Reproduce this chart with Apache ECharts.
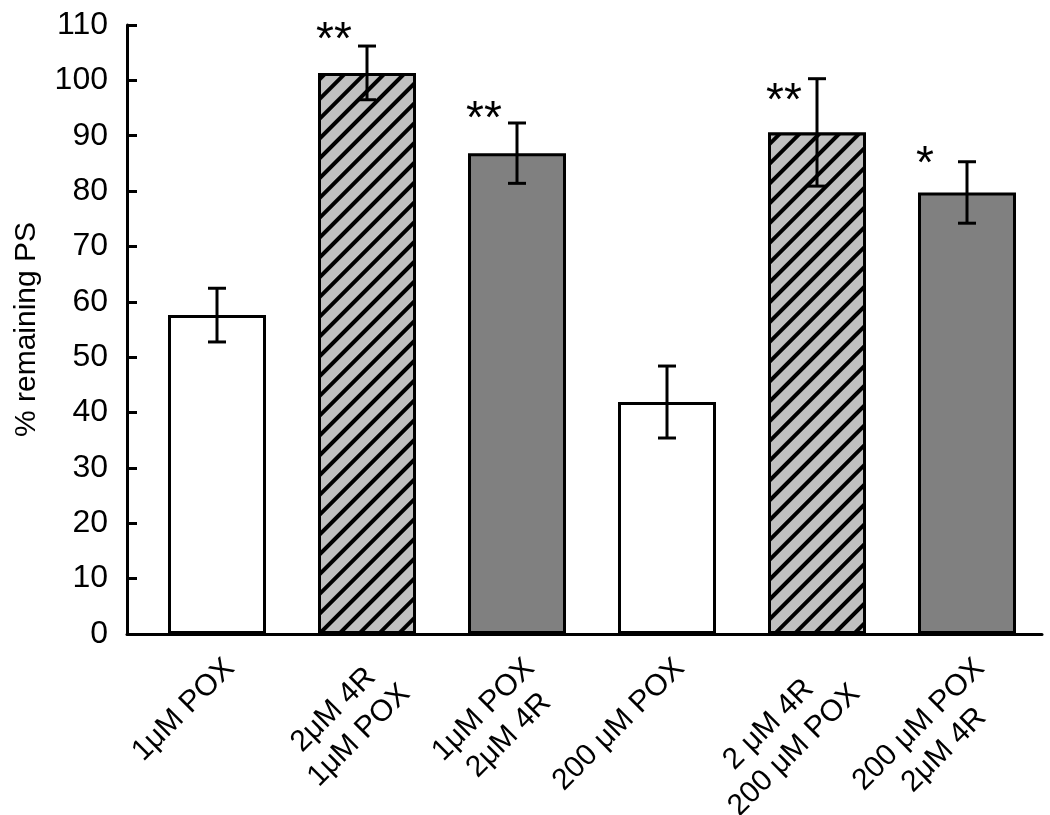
<!DOCTYPE html>
<html><head><meta charset="utf-8">
<script src="https://cdn.jsdelivr.net/npm/echarts@6/dist/echarts.min.js"></script>
<style>html,body{margin:0;padding:0;background:#fff}#c{width:1050px;height:815px}</style>
</head><body><div id="c"></div>
<script>
const categories = [
  '1μM POX',
  '2μM 4R\n1μM POX',
  '1μM POX\n2μM 4R',
  '200 μM POX',
  '2 μM 4R\n200 μM POX',
  '200 μM POX\n2μM 4R'
];
const values = [57.6, 101.35, 86.85, 41.9, 90.6, 79.75];
const errors = [4.85, 4.85, 5.45, 6.5, 9.7, 5.55];
const fills = ['white', 'hatch', 'gray', 'white', 'hatch', 'gray'];
const stars = ['', '**', '**', '', '**', '*'];
const starLevels = [null, 108.6, 94.5, null, 97.7, 86.2];
const yTicks = [0, 10, 20, 30, 40, 50, 60, 70, 80, 90, 100, 110];

const FONT = "'Liberation Sans', Arial, sans-serif";
const BAR_W = 98;

function styleFor(kind) {
  if (kind === 'hatch') {
    return {
      color: '#C0C0C0', borderColor: '#000', borderWidth: 3,
      decal: {
        symbol: 'rect', symbolSize: 1,
        dashArrayX: [1, 0], dashArrayY: [3.2, 9.8],
        rotation: -Math.PI / 4,
        color: '#000', backgroundColor: '#C0C0C0'
      }
    };
  }
  if (kind === 'gray') return { color: '#808080', borderColor: '#000', borderWidth: 3 };
  return { color: '#FFFFFF', borderColor: '#000', borderWidth: 3 };
}

const chart = echarts.init(document.getElementById('c'), null, { renderer: 'canvas' });
chart.setOption({
  animation: false,
  backgroundColor: '#fff',
  grid: { left: 127, right: 8, top: 25, bottom: 181, containLabel: false, outerBoundsMode: 'none' },
  xAxis: {
    type: 'value', min: -0.6, max: 5.5,
    splitLine: { show: false },
    axisTick: { show: false },
    axisLine: { show: true, onZero: false, lineStyle: { color: '#000', width: 3 } },
    axisLabel: {
      customValues: categories.map((c, i) => i),
      rotate: 45, margin: 17, verticalAlign: 'top',
      color: '#000', fontSize: 30, fontFamily: FONT,
      formatter: v => categories[Math.round(v)].split('\n').map(s => '{c|' + s + '}').join('\n'),
      rich: { c: { align: 'center', fontSize: 30, fontFamily: FONT, color: '#000', lineHeight: 36 } }
    }
  },
  yAxis: {
    type: 'value', min: yTicks[0], max: yTicks[yTicks.length - 1], interval: 10,
    name: '% remaining PS', nameLocation: 'middle', nameGap: 85, nameRotate: 90,
    nameTextStyle: { color: '#000', fontSize: 30, fontFamily: FONT },
    splitLine: { show: false },
    axisLine: { show: true, onZero: false, lineStyle: { color: '#000', width: 3 } },
    axisTick: { show: true, inside: true, length: 10, lineStyle: { color: '#000', width: 3 } },
    axisLabel: { color: '#000', fontSize: 32, fontFamily: FONT, margin: 19 }
  },
  series: [
    {
      type: 'bar', barWidth: BAR_W, z: 2,
      data: values.map((v, i) => ({ value: [i, v], itemStyle: styleFor(fills[i]) }))
    },
    {
      type: 'custom', z: 5,
      encode: { x: 0, y: [1, 2] },
      data: values.map((v, i) => [i, v - errors[i], v + errors[i]]),
      renderItem: function (params, api) {
        const i = api.value(0);
        const top = api.coord([i, api.value(2)]);
        const bot = api.coord([i, api.value(1)]);
        const cap = 9;
        const ls = { stroke: '#000', lineWidth: 3 };
        const children = [
          { type: 'line', shape: { x1: top[0], y1: top[1], x2: bot[0], y2: bot[1] }, style: ls },
          { type: 'line', shape: { x1: top[0] - cap, y1: top[1], x2: top[0] + cap, y2: top[1] }, style: ls },
          { type: 'line', shape: { x1: bot[0] - cap, y1: bot[1], x2: bot[0] + cap, y2: bot[1] }, style: ls }
        ];
        if (stars[i]) {
          const p = api.coord([i, starLevels[i]]);
          children.push({
            type: 'text', x: p[0] - BAR_W / 2 - 2, y: p[1] + 9,
            style: { text: stars[i], fill: '#000', font: '46px ' + FONT, align: 'left', verticalAlign: 'middle' }
          });
        }
        return { type: 'group', children: children };
      }
    }
  ]
});
</script>
</body></html>
